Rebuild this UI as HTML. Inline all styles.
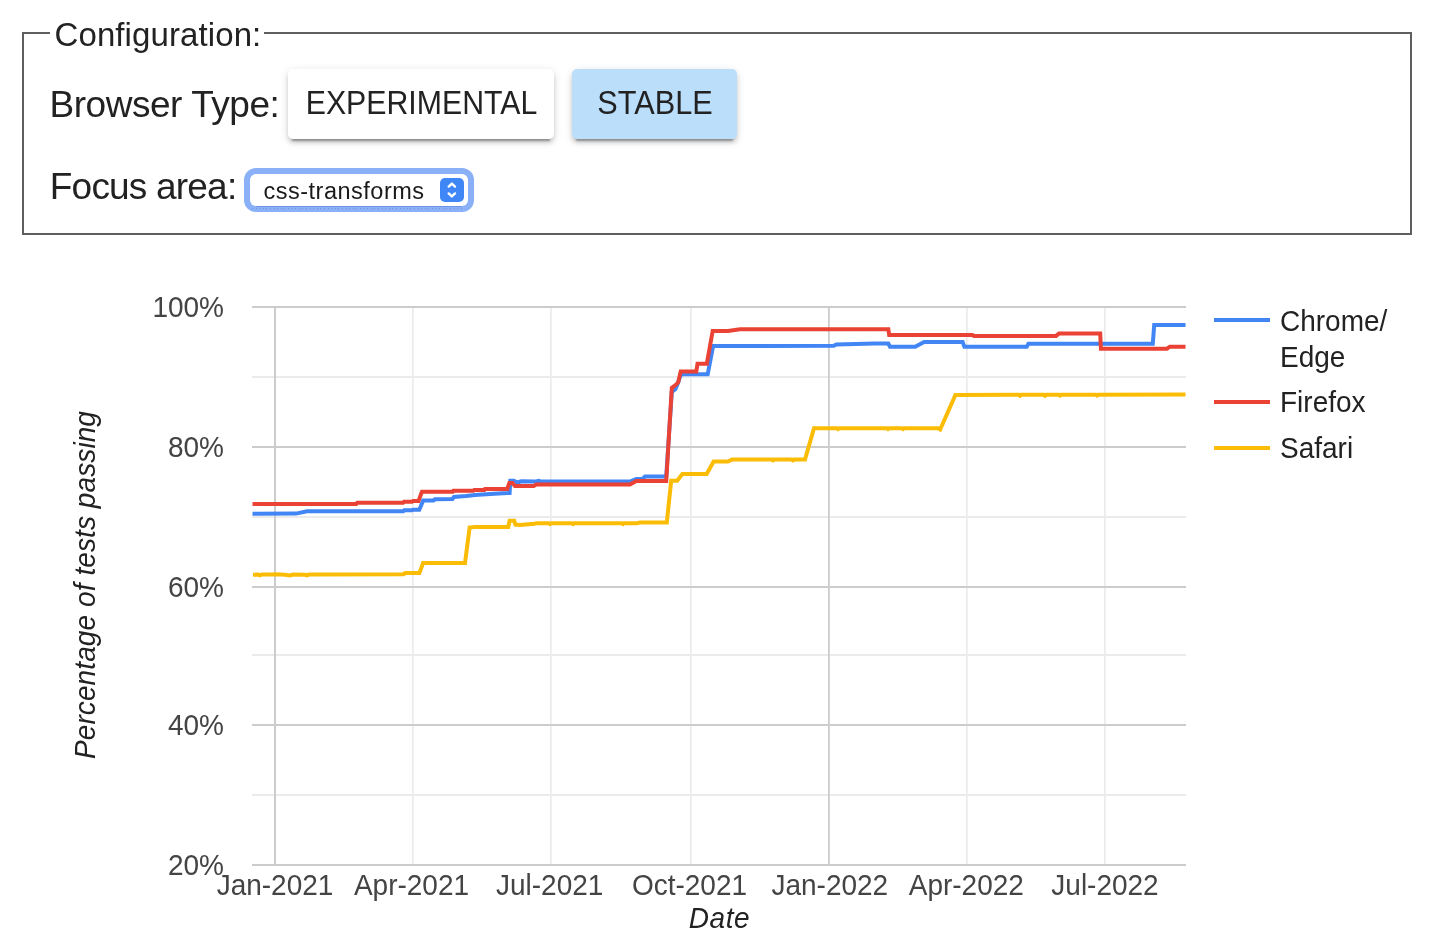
<!DOCTYPE html>
<html><head><meta charset="utf-8">
<style>
html,body{margin:0;padding:0;background:#fff;width:1442px;height:950px;overflow:hidden;}
body{position:relative;font-family:"Liberation Sans",sans-serif;}
.abs{position:absolute;}
#fs{left:22px;top:32px;width:1386px;height:199px;border:2px solid #5f5f5f;}
#leggap{left:50px;top:30px;width:214px;height:6px;background:#fff;}
.btn{position:absolute;border-radius:5px;box-shadow:0 6px 2px -4px rgba(0,0,0,.3),0 4px 4px 0 rgba(0,0,0,.14),0 2px 10px 0 rgba(0,0,0,.12);}
#b1{left:288px;top:69px;width:266px;height:70px;background:#fff;}
#b2{left:572px;top:69px;width:165px;height:70px;background:#bbdefb;}
#ring{left:244px;top:168px;width:230px;height:44px;border-radius:12px;background:#8ab0f7;}
#inner{left:250px;top:174px;width:218px;height:32px;border-radius:6px;background:#fff;}
#innerline{left:256px;top:206px;width:206px;height:1px;background:#6f93e6;}
#dots{left:252px;top:208px;width:210px;height:1px;background:repeating-linear-gradient(90deg,#7393e4 0 1px,transparent 1px 3.6px);}
#step{left:440px;top:178px;width:24px;height:24px;border-radius:5px;background:#3f86f6;}
svg{position:absolute;left:0;top:0;will-change:transform;}
</style></head><body>
<div id="fs" class="abs"></div>
<div id="leggap" class="abs"></div>
<div id="b1" class="btn"></div>
<div id="b2" class="btn"></div>
<div id="ring" class="abs"></div>
<div id="inner" class="abs"></div>
<div id="innerline" class="abs"></div>
<div id="dots" class="abs"></div>
<div id="step" class="abs"></div>
<svg width="1442" height="950" viewBox="0 0 1442 950">
<g font-family="Liberation Sans, sans-serif">
<!-- top section text -->
<text x="54.5" y="46" font-size="33" fill="#222" letter-spacing="0.1">Configuration:</text>
<text x="49.5" y="117" font-size="37" fill="#222" letter-spacing="-0.46">Browser Type:</text>
<text x="49.8" y="199" font-size="37" fill="#222" letter-spacing="-0.8">Focus area:</text>
<text transform="translate(305.7 113.8) scale(0.918 1)" font-size="33" fill="#222">EXPERIMENTAL</text>
<text transform="translate(597.3 113.8) scale(0.93 1)" font-size="33" fill="#222">STABLE</text>
<text x="263.5" y="198.8" font-size="23.5" fill="#1a1a1a" letter-spacing="0.5">css-transforms</text>
<path d="M448.7 186.6 L451.85 183.6 L455 186.6 M448.7 193.4 L451.85 196.4 L455 193.4" stroke="#fff" stroke-width="2.4" fill="none" stroke-linecap="round" stroke-linejoin="round"/>
</g>
<!-- gridlines -->
<g fill="#ebebeb">
<rect x="252" y="376" width="934" height="2"/>
<rect x="252" y="516" width="934" height="2"/>
<rect x="252" y="654" width="934" height="2"/>
<rect x="252" y="794" width="934" height="2"/>
<rect x="412" y="308" width="1.7" height="556"/>
<rect x="550" y="308" width="1.7" height="556"/>
<rect x="690" y="308" width="1.7" height="556"/>
<rect x="966" y="308" width="1.7" height="556"/>
<rect x="1104" y="308" width="1.7" height="556"/>
</g>
<g fill="#ccc">
<rect x="252" y="306" width="934" height="2"/>
<rect x="252" y="446" width="934" height="2"/>
<rect x="252" y="586" width="934" height="2"/>
<rect x="252" y="724" width="934" height="2"/>
<rect x="274" y="308" width="2" height="556"/>
<rect x="828" y="308" width="1.8" height="556"/>
<rect x="252" y="864" width="934" height="2"/>
</g>
<!-- axis labels -->
<g font-family="Liberation Sans, sans-serif" font-size="28" fill="#444">
<text transform="translate(224 317.4) scale(1 1.06)" text-anchor="end">100%</text>
<text transform="translate(224 457.4) scale(1 1.06)" text-anchor="end">80%</text>
<text transform="translate(224 597.4) scale(1 1.06)" text-anchor="end">60%</text>
<text transform="translate(224 735.4) scale(1 1.06)" text-anchor="end">40%</text>
<text transform="translate(224 875) scale(1 1.06)" text-anchor="end">20%</text>
<g text-anchor="middle">
<text transform="translate(275 895) scale(1 1.04)">Jan-2021</text>
<text transform="translate(411.5 895) scale(1 1.04)">Apr-2021</text>
<text transform="translate(549.7 895) scale(1 1.04)">Jul-2021</text>
<text transform="translate(689.5 895) scale(1 1.04)">Oct-2021</text>
<text transform="translate(829.8 895) scale(1 1.04)">Jan-2022</text>
<text transform="translate(966.3 895) scale(1 1.04)">Apr-2022</text>
<text transform="translate(1105 895) scale(1 1.04)">Jul-2022</text>
</g>
</g>
<g font-family="Liberation Sans, sans-serif" font-size="28" fill="#222" font-style="italic">
<text transform="translate(719.5 927.7) scale(1 1.04)" text-anchor="middle" letter-spacing="0.6">Date</text>
<text transform="translate(95 585) rotate(-90) scale(1 1.04)" text-anchor="middle" letter-spacing="0.1">Percentage of tests passing</text>
</g>
<!-- data lines -->
<g fill="none" stroke-width="4" stroke-linejoin="miter" stroke-linecap="butt">
<polyline id="chrome" stroke="#4285f4" points="252.5,513.75 296,513.6 307,511.2 403.3,511.2 404.3,510.3 412,510.3 413,509.7 419.3,509.7 423.2,500.5 433.7,500.4 435,499.3 452.5,499 454,496.9 466,496 475,495 490,494 507.9,493 509.6,493 510.3,480.75 513.75,480.75 517.5,482.5 521.25,481.25 535,481.6 538.75,480.75 541,481.6 630,481.6 636.25,478.9 642.5,478.9 645,476.6 666.2,476.6 671.8,392 675.3,389.2 678.2,382.5 680.6,375 682.5,374.3 707.7,374.3 713.1,346.1 833.7,345.8 836.4,344.4 874.9,343.5 888.3,343.5 890,346.7 915.2,346.7 924.1,341.9 962.6,341.9 964.4,346.7 1026.7,346.7 1028.4,343.8 1152.8,343.8 1154.2,324.9 1185.5,324.9"/>
<polyline id="firefox" stroke="#ea4335" points="252.5,504 356.2,504 357.2,502.85 403,502.85 404,501.8 412,501.8 413,501 418.5,501 421.9,491.8 452.8,491.8 453.5,490.7 473.3,490.7 474.3,490 484.3,490 485,488.9 507.2,488.9 509.4,482.9 512.5,482.9 515,486 533.75,486 536.25,484.5 630,484.5 636.25,481 666.25,481 671.8,387.8 675.2,385.3 678.2,382.3 680.7,371.4 696.3,371.4 697.5,363.8 706.8,363.8 712.7,331 728,331 740,329.2 888.3,329.2 889.2,335.1 972.4,335.1 974.2,336 1056.1,335.9 1059,333.5 1100.2,333.5 1100.9,348.7 1167,348.7 1169.8,346.7 1185.5,346.7"/>
<polyline id="safari" stroke="#fbbc05" points="253,574.8 258,574.6 260,575.3 262,574.5 272,574.6 276,574.2 285,574.8 290,575.4 293,574.6 305,574.8 307,575.4 309,574.6 320,574.4 403.75,574.3 405,573.1 419.4,573.1 423.1,563.1 465,563.1 469.6,527.5 475,526.9 508.3,527 509.6,520.7 514.2,520.7 515.4,524.6 520,525 534.2,523.75 536.7,523.2 548.7,523.2 550,524.1 551.3,523.2 571.7,523.2 573,524.1 574.3,523.2 621.7,523.2 623,524.1 624.3,523.2 637.4,523.2 640,522.4 666.8,522.4 671.2,480.8 677.2,480.8 682.4,473.9 706.7,473.9 713.6,461.5 728,461.5 732,459.6 771.7,459.55 773,460.44 774.3,459.54 791.7,459.52 793,460.42 794.3,459.51 805,459.5 814,428.2 836.7,428.2 838,429.1 839.3,428.2 886.7,428.2 888,429.1 889.3,428.2 901.7,428.2 903,429.1 904.3,428.2 938,428.2 940.2,429.5 955.4,395 1018.7,394.86 1020,395.76 1021.3,394.86 1043.7,394.81 1045,395.71 1046.3,394.8 1058.7,394.78 1060,395.67 1061.3,394.77 1095.7,394.7 1097,395.59 1098.3,394.69 1185.5,394.5"/>
</g>
<!-- legend -->
<rect x="1214" y="318" width="56" height="4" fill="#4285f4"/>
<rect x="1214" y="400" width="56" height="4" fill="#ea4335"/>
<rect x="1214" y="446" width="56" height="4" fill="#fbbc05"/>
<g font-family="Liberation Sans, sans-serif" font-size="28" fill="#222">
<text transform="translate(1280 331) scale(1 1.04)">Chrome/</text>
<text transform="translate(1280 366.8) scale(1 1.04)">Edge</text>
<text transform="translate(1280 412.2) scale(1 1.04)">Firefox</text>
<text transform="translate(1280 457.8) scale(1 1.04)">Safari</text>
</g>
</svg>
</body></html>
